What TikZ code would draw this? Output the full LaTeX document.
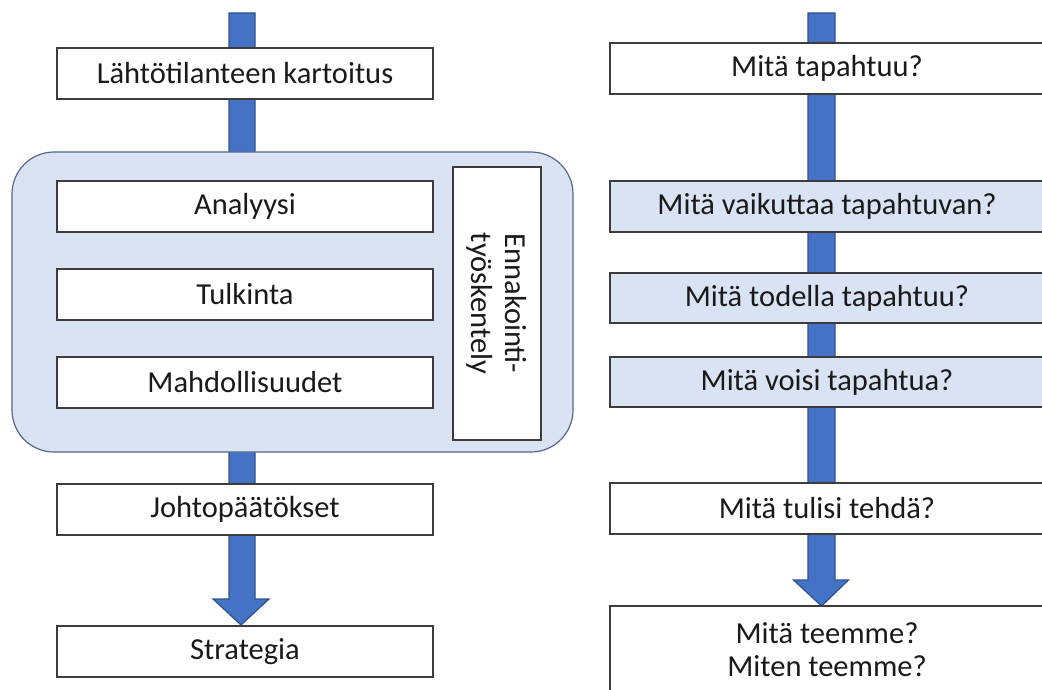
\documentclass[tikz,border=0pt]{standalone}
\usepackage{fontspec}
\setmainfont{Carlito}
\usetikzlibrary{calc}
\definecolor{arrowblue}{HTML}{4472C4}
\definecolor{arrowedge}{HTML}{2F528F}
\definecolor{paleblue}{HTML}{DAE3F3}
\definecolor{groupedge}{HTML}{52688A}
\definecolor{boxedge}{HTML}{3C3C3C}
\definecolor{ink}{HTML}{1A1A1A}
\tikzset{
  blockarrow/.style={fill=arrowblue, draw=arrowedge, line width=1.2pt, line join=miter},
  stagebox/.style={draw=boxedge, fill=white, line width=1.4pt, minimum width=376pt,
    minimum height=51pt, inner sep=0pt, font=\fontsize{30.5}{34}\selectfont, text=ink},
  qbox/.style={draw=boxedge, fill=white, line width=1.4pt, minimum width=450pt,
    minimum height=51pt, inner sep=0pt},
  qshade/.style={qbox, fill=paleblue},
  qlabel/.style={inner sep=0pt, font=\fontsize{30.5}{34}\selectfont, text=ink, align=center},
}
\begin{document}
\begin{tikzpicture}[x=1pt, y=-1pt]
\clip (0,0) rectangle (1042,690);
\fill[white] (0,0) rectangle (1042,690);

% flow arrows, drawn first so the boxes sit on top of them
\coordinate (Ltop) at (242,13);
\coordinate (Ltip) at (241,625);
\coordinate (Rtop) at (821.5,13);
\coordinate (Rtip) at (821.5,606);
\coordinate (Rtext) at (827,0);
\draw[blockarrow]
  ($(Ltop)+(-13,0)$) -- ($(Ltop)+(13,0)$) -- ($(Ltip)+(14,-26)$) -- ($(Ltip)+(28,-26)$)
  -- (Ltip) -- ($(Ltip)+(-28,-26)$) -- ($(Ltip)+(-12,-26)$) -- cycle;
\draw[blockarrow]
  ($(Rtop)+(-13.5,0)$) -- ($(Rtop)+(13.5,0)$) -- ($(Rtip)+(13.5,-26)$) -- ($(Rtip)+(27,-26)$)
  -- (Rtip) -- ($(Rtip)+(-28,-26)$) -- ($(Rtip)+(-13.5,-26)$) -- cycle;

% left column
\node[stagebox] (start) at (245,73.5) {Lähtötilanteen kartoitus};
\node[draw=groupedge, fill=paleblue, line width=1.2pt, rounded corners=42pt,
  minimum width=561pt, minimum height=300pt, inner sep=0pt] (group) at (292.5,302) {};
\node[stagebox] (analyysi) at (245,206.5) {Analyysi};
\node[stagebox] (tulkinta) at (245,294.5) {Tulkinta};
\node[stagebox] (mahd) at (245,382.5) {Mahdollisuudet};
\node[draw=boxedge, fill=white, line width=1.4pt, minimum width=88pt, minimum height=273pt,
  inner sep=0pt] (ennak) at (497,303.5) {};
\node[rotate=-90, inner sep=0pt, font=\fontsize{30.5}{34}\selectfont, text=ink, align=center]
  (ennaktext) at (ennak.center) {Ennakointi-\\työskentely};
\node[stagebox] (johto) at (245,509.5) {Johtopäätökset};
\node[stagebox] (strategia) at (245,651.5) {Strategia};

% right column
\node[qbox] (q1) at (835,68.5) {};
\node[qlabel] (q1t) at (q1.center -| Rtext) {Mitä tapahtuu?};
\node[qshade] (q2) at (835,206.5) {};
\node[qlabel] (q2t) at (q2.center -| Rtext) {Mitä vaikuttaa tapahtuvan?};
\node[qshade, minimum height=50pt] (q3) at (835,298) {};
\node[qlabel] (q3t) at (q3.center -| Rtext) {Mitä todella tapahtuu?};
\node[qshade, minimum height=50pt] (q4) at (835,382) {};
\node[qlabel] (q4t) at (q4.center -| Rtext) {Mitä voisi tapahtua?};
\node[qbox] (q5) at (835,508.5) {};
\node[qlabel] (q5t) at (q5.center -| Rtext) {Mitä tulisi tehdä?};
\node[qbox, minimum height=110pt] (q6) at (835,661) {};
\node[qlabel, font=\fontsize{30.5}{33}\selectfont] (q6t) at (827,649.5) {Mitä teemme?\\Miten teemme?};
\end{tikzpicture}
\end{document}
